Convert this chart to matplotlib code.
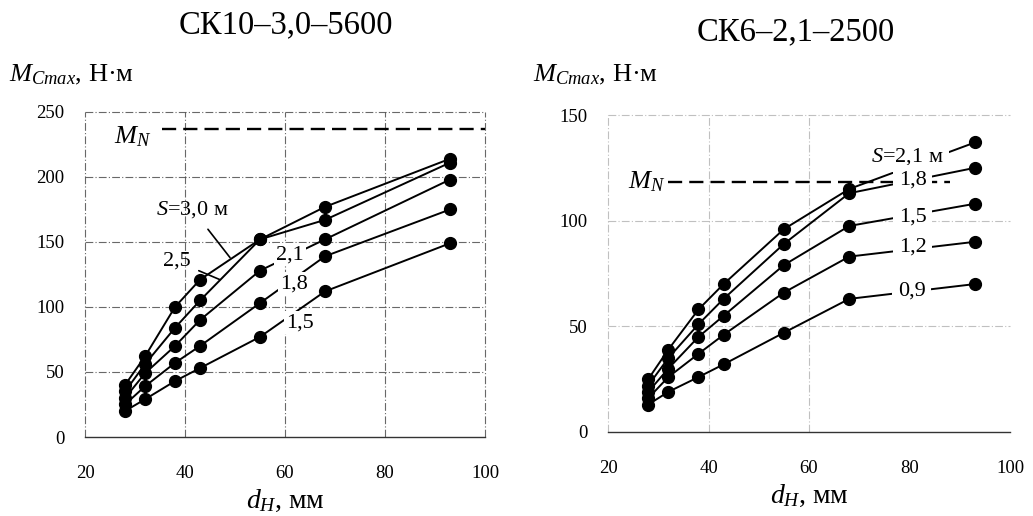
import matplotlib.pyplot as plt

plt.rcParams['font.family'] = ['Liberation Serif', 'DejaVu Serif']
plt.rcParams['mathtext.fontset'] = 'custom'
plt.rcParams['mathtext.rm'] = 'Liberation Serif'
plt.rcParams['mathtext.it'] = 'Liberation Serif:italic'

# plunger diameters, mm
d_pump = [28, 32, 38, 43, 55, 68, 93]

# СК10-3,0-5600, torque N*m for each stroke length
left_title = 'СК10–3,0–5600'
left_stroke = ['3,0', '2,5', '2,1', '1,8', '1,5']
left_torque = [
    [40, 62, 100, 121, 152, 177, 214],
    [35, 56, 84, 105, 152, 167, 211],
    [30, 49, 70, 90, 128, 152, 198],
    [25, 39, 57, 70, 103, 139, 175],
    [20, 29, 43, 53, 77, 112, 149],
]
left_mn = 237

# СК6-2,1-2500
right_title = 'СК6–2,1–2500'
right_stroke = ['2,1', '1,8', '1,5', '1,2', '0,9']
right_torque = [
    [25, 39, 58, 70, 96, 115, 137],
    [22, 35, 51, 63, 89, 113, 125],
    [19, 30, 45, 55, 79, 97.5, 108],
    [16, 26, 37, 46, 66, 83, 90],
    [13, 19, 26, 32, 47, 63, 70],
]
right_mn = 118.5

LABEL_FS = 16
box = dict(facecolor='white', edgecolor='none', pad=1.5)


def setup_axes(ax, ymax, title, title_xy, grid_alpha, xgrid):
    ax.set_xlim(20, 100)
    ax.set_ylim(0, ymax)
    for s in ax.spines.values():
        s.set_visible(False)
    ax.set_xticks(range(20, 101, 20))
    ax.set_yticks(range(0, ymax + 1, 50))
    ax.tick_params(length=0, labelsize=13.5)
    ax.tick_params(axis='x', pad=20)
    ax.tick_params(axis='y', pad=15)
    for x in xgrid:
        ax.axvline(x, color='0.3', lw=0.8, ls=(0, (7, 2, 1, 2)),
                   alpha=grid_alpha, zorder=0, clip_on=False)
    for y in range(50, ymax + 1, 50):
        ax.axhline(y, color='0.3', lw=0.8, ls=(0, (7, 2, 1, 2)),
                   alpha=grid_alpha, zorder=0, clip_on=False)
    ax.axhline(0, color='0.2', lw=1.0, zorder=0, clip_on=False)
    ax.set_xlabel(r'$d_H$, мм', fontsize=20, labelpad=4)
    fig.text(title_xy[0], title_xy[1], title, fontsize=23.5,
             ha='center', va='center')


fig = plt.figure(figsize=(10.33, 5.16), dpi=100)

# ---------------- left panel ----------------
ax1 = fig.add_axes([0.0823, 0.1531, 0.3872, 0.6299])
setup_axes(ax1, 250, left_title, (0.277, 0.952), 0.85,
           range(20, 101, 20))
for ys in left_torque:
    ax1.plot(d_pump, ys, color='black', lw=1.4, marker='o', ms=8.5, zorder=3)
ax1.plot([35.4, 100], [left_mn, left_mn], color='black', lw=1.7,
         ls=(0, (6, 3)), clip_on=False, zorder=2)
ax1.text(29.6, left_mn - 6, r'$M_N$', fontsize=19, ha='center', va='center')
ax1.annotate(r'$S$=3,0 м', xy=(49, 138), xytext=(41.5, 175),
             fontsize=LABEL_FS, ha='center', va='center',
             arrowprops=dict(arrowstyle='-', color='black', lw=1.2,
                             shrinkA=6, shrinkB=0))
ax1.annotate('2,5', xy=(47, 121), xytext=(38.4, 135), fontsize=LABEL_FS,
             ha='center', va='center',
             arrowprops=dict(arrowstyle='-', color='black', lw=1.2,
                             shrinkA=4, shrinkB=0))
for lab, (x, y) in zip(left_stroke[2:], [(61, 140), (61.7, 118), (63, 88)]):
    ax1.text(x, y, lab, fontsize=LABEL_FS, ha='center', va='center',
             bbox=box, zorder=4)
fig.text(0.009, 0.855, r'$M_{Cmax}$, Н·м', fontsize=19, ha='left',
         va='center')

# ---------------- right panel ----------------
ax2 = fig.add_axes([0.5886, 0.1628, 0.3892, 0.6143])
setup_axes(ax2, 150, right_title, (0.770, 0.937), 0.35, [20, 40, 60])
for ys in right_torque:
    ax2.plot(d_pump, ys, color='black', lw=1.4, marker='o', ms=8.5,
             zorder=3, clip_on=False)
ax2.plot([32, 88], [right_mn, right_mn], color='black', lw=1.7,
         ls=(0, (6, 3)), zorder=2)
ax2.text(27.8, right_mn, r'$M_N$', fontsize=19, ha='center', va='center')
right_pos = [(79.5, 130.5), (80.6, 119), (80.6, 101.5), (80.6, 87.5),
             (80.4, 66.5)]
for i, (lab, (x, y)) in enumerate(zip(right_stroke, right_pos)):
    txt = r'$S$=' + lab + ' м' if i == 0 else lab
    ax2.text(x, y, txt, fontsize=LABEL_FS, ha='center', va='center',
             bbox=dict(facecolor='white', edgecolor='none', pad=4), zorder=4)
fig.text(0.516, 0.855, r'$M_{Cmax}$, Н·м', fontsize=19, ha='left',
         va='center')

fig.savefig('out.png', dpi=100, facecolor='white')
